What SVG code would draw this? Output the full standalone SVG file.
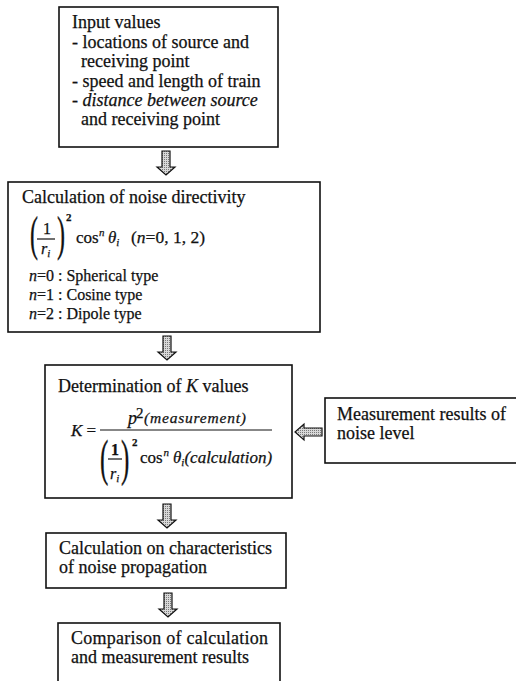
<svg xmlns="http://www.w3.org/2000/svg" width="516" height="681" viewBox="0 0 516 681">
<defs>
<style>
.box{fill:#fff;stroke:#111;stroke-width:1.6}
.t{font-family:"Liberation Serif","Times New Roman",serif;font-size:18px;fill:#111;stroke:#111;stroke-width:0.25}
.s{font-size:16px}
.i{font-style:italic}
.sm{font-size:11px}
.arr{fill:url(#st);stroke:#111;stroke-width:1.2;stroke-linejoin:miter}
.fl{stroke:#111;stroke-width:1.2}
</style>
<pattern id="st" width="2" height="2" patternUnits="userSpaceOnUse"><rect width="2" height="2" fill="#d8d8d8"/><rect width="1" height="1" fill="#7a7a7a"/></pattern>
<path id="down" d="M-4,0 H4 V16 H9 L0,24 L-9,16 H-4 Z"/>
</defs>

<g id="connectors">
<use href="#down" class="arr" x="166" y="151"/>
<use href="#down" class="arr" x="167" y="336"/>
<use href="#down" class="arr" x="167" y="504"/>
<use href="#down" class="arr" x="168" y="593"/>
<path class="arr" d="M322,428 H304 V424 L295,432 L304,440 V436 H322 Z"/>
</g>

<g id="input">
<rect class="box" x="59" y="7" width="219" height="140"/>
<text class="t" x="72" y="28">Input values</text>
<text class="t" x="72" y="48">- locations of source and</text>
<text class="t" x="81" y="67">receiving point</text>
<text class="t" x="72" y="87">- speed and length of train</text>
<text class="t" x="72" y="106">- <tspan class="i">distance between source</tspan></text>
<text class="t" x="81" y="125">and receiving point</text>
</g>

<g id="directivity">
<rect class="box" x="8" y="182" width="312" height="150"/>
<text class="t" x="22" y="203">Calculation of noise directivity</text>
<text class="t" x="0" y="0" style="font-size:48px;stroke-width:0.4" transform="translate(30 250) scale(0.5 1)">(</text>
<text class="t" x="0" y="0" style="font-size:48px;stroke-width:0.4" transform="translate(57 250) scale(0.5 1)">)</text>
<text class="t s" x="43" y="234">1</text>
<line class="fl" x1="37" y1="239" x2="55" y2="239"/>
<text class="t s i" x="41" y="254">r<tspan class="sm" dy="3">i</tspan></text>
<text class="t sm" x="66" y="221" style="font-weight:bold">2</text>
<text class="t" x="76" y="243" style="font-size:17px">cos</text>
<text class="t sm i" x="99" y="236">n</text>
<text class="t i" x="108" y="243" style="font-size:17px">θ<tspan class="sm" dy="3">i</tspan></text>
<text class="t" x="131" y="243" style="font-size:17px" textLength="74" lengthAdjust="spacingAndGlyphs">(<tspan class="i">n</tspan>=0, 1, 2)</text>
<text class="t s" x="29" y="281"><tspan class="i">n</tspan>=0 : Spherical type</text>
<text class="t s" x="29" y="300"><tspan class="i">n</tspan>=1 : Cosine type</text>
<text class="t s" x="29" y="319"><tspan class="i">n</tspan>=2 : Dipole type</text>
</g>

<g id="kvalues">
<rect class="box" x="45" y="365" width="247" height="133"/>
<text class="t" x="58" y="392">Determination of <tspan class="i">K</tspan> values</text>
<text class="t" x="71" y="436" style="font-size:17px"><tspan class="i">K</tspan> =</text>
<line class="fl" x1="100" y1="430" x2="272" y2="430"/>
<text class="t i" x="128" y="424" style="font-size:18px">p</text>
<text class="t" x="136" y="418" style="font-size:15px">2</text>
<text class="t i" x="144" y="423" style="font-size:15.5px" textLength="102" lengthAdjust="spacing">(measurement)</text>
<text class="t" x="0" y="0" style="font-size:50px;stroke-width:0.4" transform="translate(100 475) scale(0.5 1)">(</text>
<text class="t" x="0" y="0" style="font-size:50px;stroke-width:0.4" transform="translate(121 475) scale(0.5 1)">)</text>
<text class="t s" x="111" y="455" style="font-weight:bold">1</text>
<line class="fl" x1="108" y1="459" x2="122" y2="459"/>
<text class="t s i" x="110" y="479">r<tspan class="sm" dy="3">i</tspan></text>
<text class="t sm" x="132" y="446" style="font-weight:bold">2</text>
<text class="t" x="140" y="463" style="font-size:17px">cos</text>
<text class="t sm i" x="163.5" y="456">n</text>
<text class="t i" x="173" y="463" style="font-size:17px">θ<tspan class="sm" dy="3">i</tspan><tspan dy="-3" style="font-size:17px">(calculation)</tspan></text>
</g>

<g id="measurement">
<rect class="box" x="325" y="398" width="200" height="65"/>
<text class="t" x="337" y="420">Measurement results of</text>
<text class="t" x="337" y="439">noise level</text>
</g>

<g id="propagation">
<rect class="box" x="46" y="533" width="240" height="55"/>
<text class="t" x="59" y="554" textLength="213" lengthAdjust="spacing">Calculation on characteristics</text>
<text class="t" x="59" y="573">of noise propagation</text>
</g>

<g id="comparison">
<rect class="box" x="58" y="623" width="222" height="70"/>
<text class="t" x="71" y="644" textLength="197" lengthAdjust="spacing">Comparison of calculation</text>
<text class="t" x="71" y="663">and measurement results</text>
</g>
</svg>
